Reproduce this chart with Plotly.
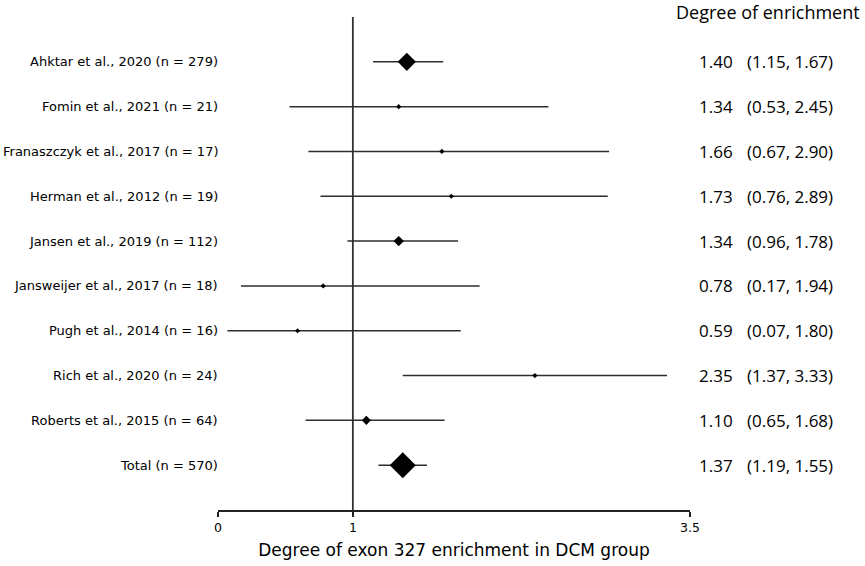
import plotly.graph_objects as go

# study labels, top to bottom
studies = [
    "Ahktar et al., 2020 (n = 279)",
    "Fomin et al., 2021 (n = 21)",
    "Franaszczyk et al., 2017 (n = 17)",
    "Herman et al., 2012 (n = 19)",
    "Jansen et al., 2019 (n = 112)",
    "Jansweijer et al., 2017 (n = 18)",
    "Pugh et al., 2014 (n = 16)",
    "Rich et al., 2020 (n = 24)",
    "Roberts et al., 2015 (n = 64)",
    "Total (n = 570)",
]
estimate = [1.40, 1.34, 1.66, 1.73, 1.34, 0.78, 0.59, 2.35, 1.10, 1.37]
ci_low = [1.15, 0.53, 0.67, 0.76, 0.96, 0.17, 0.07, 1.37, 0.65, 1.19]
ci_high = [1.67, 2.45, 2.90, 2.89, 1.78, 1.94, 1.80, 3.33, 1.68, 1.55]
marker_sizes = [14, 4, 4, 4, 8, 4, 4, 4, 7, 20]

x_ticks = [0, 1, 3.5]

n = len(studies)
rows = list(range(n, 0, -1))  # 10 .. 1

fig = go.Figure()

# confidence intervals (error bars, no caps)
fig.add_trace(
    go.Scatter(
        x=estimate,
        y=rows,
        mode="markers",
        marker=dict(size=1, color="rgba(0,0,0,0)"),
        error_x=dict(
            type="data",
            symmetric=False,
            array=[h - e for h, e in zip(ci_high, estimate)],
            arrayminus=[e - l for e, l in zip(estimate, ci_low)],
            color="#2e2e2e",
            thickness=1.5,
            width=0,
        ),
        showlegend=False,
        hoverinfo="skip",
    )
)

# point estimates
fig.add_trace(
    go.Scatter(
        x=estimate,
        y=rows,
        mode="markers",
        marker=dict(symbol="diamond", size=marker_sizes, color="black", opacity=1,
                    line=dict(width=0)),
        showlegend=False,
        hoverinfo="skip",
    )
)

# reference line at 1
fig.add_shape(
    type="line", x0=1, x1=1, y0=0, y1=n + 1,
    xref="x", yref="y", line=dict(color="#333333", width=1.8), layer="below",
)

right_font = dict(family="Open Sans", size=17, color="black")

annotations = []
for i in range(n):
    annotations.append(
        dict(
            x=0, y=rows[i], xref="paper", yref="y", text=studies[i],
            xanchor="right", yanchor="middle", showarrow=False, xshift=2,
            font=dict(family="DejaVu Sans", size=13, color="black"),
        )
    )
    annotations.append(
        dict(
            x=1.015, y=rows[i], xref="paper", yref="y", text=f"{estimate[i]:.2f}",
            xanchor="left", yanchor="middle", showarrow=False,
            font=right_font,
        )
    )
    annotations.append(
        dict(
            x=1.116, y=rows[i], xref="paper", yref="y",
            text=f"({ci_low[i]:.2f}, {ci_high[i]:.2f})",
            xanchor="left", yanchor="middle", showarrow=False,
            font=right_font,
        )
    )

annotations.append(
    dict(
        x=1.165, y=1.01, xref="paper", yref="paper", text="Degree of enrichment",
        xanchor="center", yanchor="middle", showarrow=False,
        font=dict(family="Open Sans", size=18, color="black"),
    )
)

fig.update_layout(
    width=865,
    height=566,
    margin=dict(l=218, r=175, t=17, b=56),
    plot_bgcolor="white",
    paper_bgcolor="white",
    annotations=annotations,
)

fig.update_xaxes(
    range=[0, 3.5],
    tickvals=x_ticks,
    ticktext=["0", "1", "3.5"],
    showline=True,
    linecolor="#222222",
    linewidth=1.5,
    ticks="outside",
    ticklen=5,
    tickwidth=1.5,
    tickcolor="#222222",
    showgrid=False,
    zeroline=False,
    automargin=False,
    tickfont=dict(family="DejaVu Sans", size=12.5, color="black"),
    title=dict(
        text="Degree of exon 327 enrichment in DCM group",
        font=dict(family="DejaVu Sans", size=17, color="black"),
        standoff=10,
    ),
)
fig.update_yaxes(
    range=[0, n + 1],
    showticklabels=False,
    showgrid=False,
    zeroline=False,
    showline=False,
    automargin=False,
)

fig.write_html(
    "out.html",
    config={"displayModeBar": False},
    post_script="document.body.style.margin = '0';",
)
